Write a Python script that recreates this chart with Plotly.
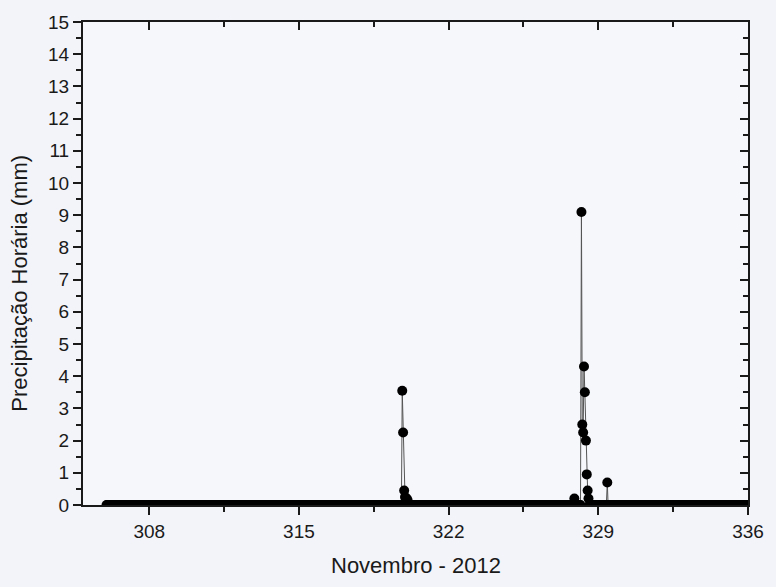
import numpy as np
import plotly.graph_objects as go

# Hourly record (day of year), November 2012
day_start = 306.0
day_end = 336.0
hours_per_day = 24

# Non-zero hourly precipitation (mm)
rain_days = [319.83, 319.87, 319.92, 319.96, 320.04, 320.08,
             327.88, 328.21, 328.25, 328.29, 328.33, 328.37, 328.42,
             328.46, 328.50, 328.54, 329.42]
rain_values = [3.55, 2.25, 0.45, 0.25, 0.2, 0.15,
               0.2, 9.1, 2.5, 2.25, 4.3, 3.5, 2.0,
               0.95, 0.45, 0.2, 0.7]

x_ticks = [308, 315, 322, 329, 336]
y_ticks = list(range(0, 16))

# Build hourly series: zero everywhere except observed rain
n = int(round((day_end - day_start) * hours_per_day)) + 1
days = day_start + np.arange(n) / hours_per_day
vals = np.zeros(n)
for d, v in zip(rain_days, rain_values):
    idx = int(round((d - day_start) * hours_per_day))
    days[idx] = d
    vals[idx] = v

fig = go.Figure()
fig.add_trace(go.Scatter(
    x=days, y=vals, mode="lines+markers",
    line=dict(color="#555555", width=1),
    marker=dict(color="black", size=10, line=dict(width=0)),
    cliponaxis=True, showlegend=False,
))
# dummy trace for mirrored axes
fig.add_trace(go.Scatter(x=[None], y=[None], xaxis="x2", yaxis="y2",
                         showlegend=False, hoverinfo="skip"))

xr = [304.9, 336]
yr = [0, 15]
ink = "#1a1a1a"
fam = "Liberation Sans, Arial, sans-serif"
tick_font = dict(family=fam, size=19, color=ink)
title_font = dict(family=fam, size=22, color=ink)

fig.update_layout(
    width=776, height=587,
    margin=dict(l=83, r=23, t=18, b=82),
    paper_bgcolor="#f3f4f9",
    plot_bgcolor="#f6f7fb",
    font=tick_font,
    xaxis=dict(
        range=xr, tickvals=x_ticks, ticktext=[str(t) for t in x_ticks],
        ticks="outside", ticklen=8, tickwidth=2, tickcolor=ink,
        minor=dict(dtick=3.5, tick0=308, ticks="outside", ticklen=5, tickwidth=2, tickcolor=ink),
        showline=True, linecolor=ink, linewidth=2,
        showgrid=False, zeroline=False, tickfont=tick_font,
    ),
    yaxis=dict(
        range=yr, tickvals=y_ticks,
        ticks="outside", ticklen=8, tickwidth=2, tickcolor=ink,
        minor=dict(dtick=0.5, tick0=0, ticks="outside", ticklen=5, tickwidth=2, tickcolor=ink),
        showline=True, linecolor=ink, linewidth=2,
        showgrid=False, zeroline=False, tickfont=tick_font,
    ),
    xaxis2=dict(
        range=xr, overlaying="x", side="top", tickvals=x_ticks,
        showticklabels=False, ticks="inside", ticklen=8, tickwidth=2, tickcolor=ink,
        minor=dict(dtick=3.5, tick0=308, ticks="inside", ticklen=5, tickwidth=2, tickcolor=ink),
        showline=True, linecolor=ink, linewidth=2, showgrid=False, zeroline=False,
    ),
    yaxis2=dict(
        range=yr, overlaying="y", side="right", tickvals=y_ticks,
        showticklabels=False, ticks="inside", ticklen=8, tickwidth=2, tickcolor=ink,
        minor=dict(dtick=0.5, tick0=0, ticks="inside", ticklen=5, tickwidth=2, tickcolor=ink),
        showline=True, linecolor=ink, linewidth=2, showgrid=False, zeroline=False,
    ),
    annotations=[
        dict(text="Novembro - 2012", xref="paper", yref="paper",
             x=0.5, y=-0.125, xanchor="center", yanchor="middle",
             showarrow=False, font=title_font),
        dict(text="Precipitação Horária (mm)", xref="paper", yref="paper",
             x=-0.095, y=0.46, xanchor="center", yanchor="middle",
             textangle=-90, showarrow=False, font=title_font),
    ],
)

fig.write_html("out.html")
